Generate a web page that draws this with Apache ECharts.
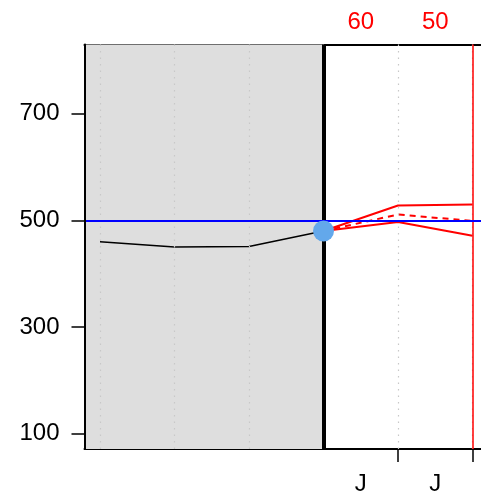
<!DOCTYPE html>
<html>
<head>
<meta charset="utf-8">
<script src="https://cdn.jsdelivr.net/npm/echarts@6/dist/echarts.min.js"></script>
<style>html,body{margin:0;padding:0;background:#fff}#c{width:481px;height:495px}</style>
</head>
<body>
<div id="c"></div>
<script>
// Data
const histX = [0, 1, 2, 3];
const histY = [460, 450, 451, 480];
const fcX = [3, 4, 5];
const fcUpper = [480, 528, 530];
const fcMid = [480, 511, 499];
const fcLower = [480, 497, 471];
const currentPoint = [3, 480];
const gridX = [0, 1, 2, 3, 4, 5];
const shadeFrom = -0.208, shadeTo = 3;
const nowX = 3;
const horizonX = 5;
const targetY = 500;
const yTicks = [100, 300, 500, 700];
const bottomTickX = [4, 5];
const bottomLabelX = [3.5, 4.5];
const bottomLabels = ['J', 'J'];
const topLabelX = [3.5, 4.5];
const topLabels = ['60', '50'];

const FONT = 'Liberation Sans, Arial, sans-serif';
const chart = echarts.init(document.getElementById('c'), null, {renderer: 'canvas'});

const pair = (xs, ys) => xs.map((x, i) => [x, ys[i]]);

chart.setOption({
  animation: false,
  backgroundColor: '#fff',
  grid: {left: 84.5, top: 44.5, right: 0, height: 404.5, show: false, containLabel: false, outerBoundsMode: 'none'},
  xAxis: [
    {
      type: 'value', min: -0.208, max: 5.114, position: 'bottom',
      axisLine: {show: true, onZero: false, lineStyle: {color: '#000', width: 2}},
      axisTick: {show: true, length: 13, customValues: bottomTickX, lineStyle: {color: '#000', width: 1.5}},
      axisLabel: {show: true, customValues: bottomLabelX, margin: 23, color: '#000', fontSize: 24, fontFamily: FONT,
        formatter: v => bottomLabels[bottomLabelX.indexOf(v)] || ''},
      splitLine: {show: false}
    },
    {
      type: 'value', min: -0.208, max: 5.114, position: 'top',
      axisLine: {show: true, onZero: false, lineStyle: {color: '#000', width: 2}},
      axisTick: {show: false},
      axisLabel: {show: true, customValues: topLabelX, margin: 10, color: '#ff0000', fontSize: 24, fontFamily: FONT,
        formatter: v => topLabels[topLabelX.indexOf(v)] || ''},
      splitLine: {show: false}
    }
  ],
  yAxis: {
    type: 'value', min: 71, max: 830, position: 'left',
    axisLine: {show: true, onZero: false, lineStyle: {color: '#000', width: 2}},
    axisTick: {show: true, length: 13, customValues: yTicks, lineStyle: {color: '#000', width: 1.5}},
    axisLabel: {show: true, customValues: yTicks, margin: 25, color: '#000', fontSize: 24, fontFamily: FONT},
    splitLine: {show: false},
    z: 10
  },
  series: [
    {
      type: 'line', data: [], silent: true, z: 1,
      markArea: {silent: true, itemStyle: {color: '#dedede'}, data: [[{xAxis: shadeFrom}, {xAxis: shadeTo}]]},
      markLine: {silent: true, symbol: 'none', label: {show: false},
        lineStyle: {color: '#c8c8c8', type: [1.5, 5], width: 1.2},
        data: gridX.map(x => ({xAxis: x}))}
    },
    {
      type: 'line', data: [], silent: true, z: 3,
      markLine: {silent: true, symbol: 'none', label: {show: false},
        data: [
          {xAxis: nowX, lineStyle: {color: '#000', width: 4, type: 'solid'}},
          {xAxis: horizonX, lineStyle: {color: '#ff0000', width: 1.5, type: 'solid'}}
        ]}
    },
    {type: 'line', data: pair(histX, histY), showSymbol: false, lineStyle: {color: '#000', width: 1.5}, z: 4},
    {type: 'line', data: pair(fcX, fcUpper), showSymbol: false, lineStyle: {color: '#ff0000', width: 2}, z: 4},
    {type: 'line', data: pair(fcX, fcMid), showSymbol: false, lineStyle: {color: '#ff0000', width: 2, type: [6, 5]}, z: 4},
    {type: 'line', data: pair(fcX, fcLower), showSymbol: false, lineStyle: {color: '#ff0000', width: 2}, z: 4},
    {
      type: 'line', data: [], silent: true, z: 5,
      markLine: {silent: true, symbol: 'none', label: {show: false},
        data: [{yAxis: targetY, lineStyle: {color: '#0000ff', width: 2, type: 'solid'}}]}
    },
    {type: 'scatter', data: [currentPoint], symbolSize: 21, itemStyle: {color: '#63a8eb', opacity: 1}, z: 6}
  ]
});
</script>
</body>
</html>
